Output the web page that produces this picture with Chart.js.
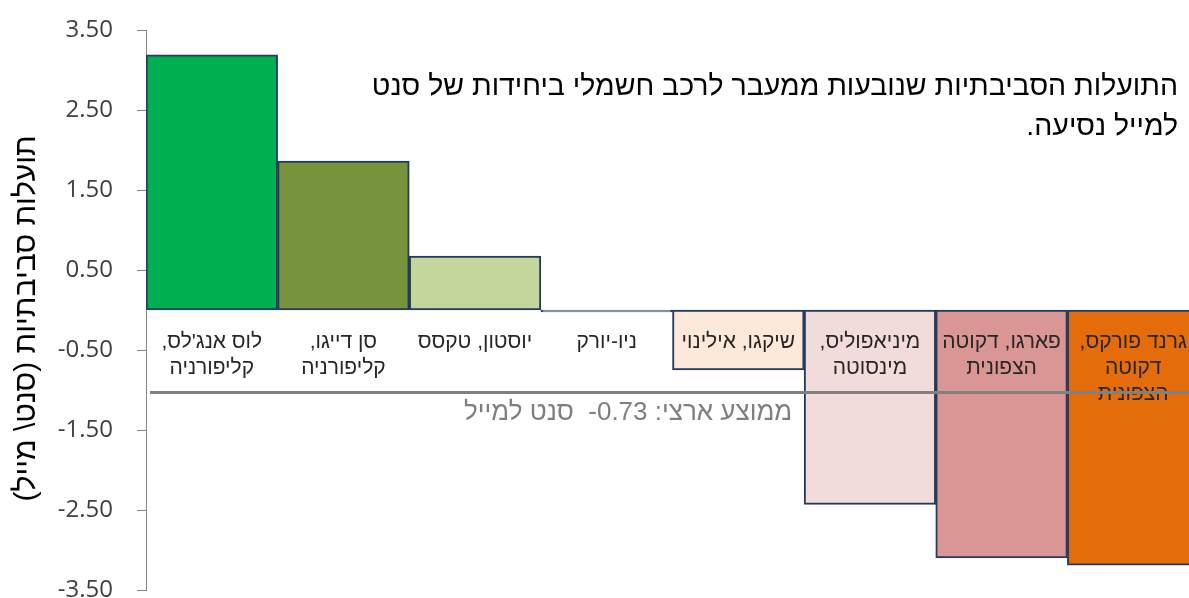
<!DOCTYPE html>
<html>
<head>
<meta charset="utf-8">
<script src="https://cdn.jsdelivr.net/npm/chart.js@4"></script>
<style>
  html, body { margin: 0; padding: 0; background: #fff; overflow: hidden; }
  #wrap { width: 1199px; height: 620px; }
</style>
</head>
<body>
<div id="wrap"><canvas id="benefitChart" width="1199" height="620"></canvas></div>
<script>
// --- Data ---
const RLM = '\u200F';
const cities = [
  ["לוס אנג'לס," + RLM, "קליפורניה"],
  ["סן דייגו," + RLM, "קליפורניה"],
  ["יוסטון, טקסס"],
  ["ניו-יורק"],
  ["שיקגו, אילינוי"],
  ["מיניאפוליס," + RLM, "מינסוטה"],
  ["פארגו, דקוטה", "הצפונית"],
  ["גרנד פורקס," + RLM, "דקוטה", "הצפונית"]
];
const benefitValues = [3.19, 1.86, 0.675, -0.025, -0.75, -2.43, -3.1, -3.19];
const barColors = ['#00B050', '#77933C', '#C3D69B', '#FFFFFF', '#FDE9D9', '#F2DCDB', '#D99694', '#E46C0A'];
const yTicks = [-3.5, -2.5, -1.5, -0.5, 0.5, 1.5, 2.5, 3.5];
const avgLineValue = -1.03;
const avgLabel = 'ממוצע ארצי: 0.73-  סנט למייל';
const titleLines = ['התועלות הסביבתיות שנובעות ממעבר לרכב חשמלי ביחידות של סנט', 'למייל נסיעה.'];
const yTitle = RLM + '\u00A0\u00A0' + 'תועלות סביבתיות (סנט\\ מייל)' + RLM;

const HEB_FONT = '"Liberation Sans", "DejaVu Sans", sans-serif';

// --- Overlay: national average line + note + title ---
const overlayPlugin = {
  id: 'overlay',
  afterDraw(chart) {
    const ctx = chart.ctx;
    const x = chart.scales.x;
    const y = chart.scales.y;
    const area = chart.chartArea;
    const yAvg = y.getPixelForValue(avgLineValue);

    ctx.save();
    ctx.strokeStyle = '#808080';
    ctx.lineWidth = 3;
    ctx.beginPath();
    ctx.moveTo(area.left + 4, yAvg);
    ctx.lineTo(area.right, yAvg);
    ctx.stroke();

    const halfCat = (x.getPixelForValue(1) - x.getPixelForValue(0)) / 2;
    ctx.direction = 'rtl';
    ctx.textAlign = 'right';
    ctx.textBaseline = 'middle';
    ctx.fillStyle = '#7F7F7F';
    ctx.font = '26px ' + HEB_FONT;
    ctx.fillText(avgLabel, x.getPixelForValue(5) - halfCat - 12, yAvg + 20);

    ctx.fillStyle = '#000';
    ctx.font = '28.5px ' + HEB_FONT;
    titleLines.forEach((line, i) => {
      ctx.fillText(line + RLM, 1178, 87 + i * 40);
    });
    ctx.restore();
  }
};

new Chart(document.getElementById('benefitChart').getContext('2d'), {
  type: 'bar',
  data: {
    labels: cities,
    datasets: [{
      data: benefitValues,
      backgroundColor: barColors,
      borderColor: '#253A5E',
      borderWidth: 2,
      borderSkipped: false,
      barPercentage: 1,
      categoryPercentage: 1
    }]
  },
  options: {
    responsive: false,
    animation: false,
    layout: { padding: 0 },
    plugins: { legend: { display: false }, tooltip: { enabled: false } },
    scales: {
      x: {
        // labels hang just under the zero line, inside the plot
        position: { y: -0.24 },
        grid: { display: false, drawTicks: false },
        border: { display: false },
        ticks: {
          z: 1,
          color: '#262626',
          padding: 0,
          maxRotation: 0,
          autoSkip: false,
          font: { family: HEB_FONT, size: 21, lineHeight: 1.24 }
        }
      },
      y: {
        min: -3.5,
        max: 3.5,
        afterBuildTicks: (scale) => { scale.ticks = yTicks.map(v => ({ value: v })); },
        afterFit: (scale) => { scale.width = 146; },
        grid: { drawOnChartArea: false, tickLength: 9, color: '#868686' },
        border: { color: '#868686' },
        ticks: {
          color: '#404040',
          padding: 24,
          font: { family: '"Open Sans", "Liberation Sans", sans-serif', size: 24, lineHeight: 0.5 },
          callback: (v) => Number(v).toFixed(2)
        },
        title: {
          display: true,
          text: yTitle,
          color: '#000',
          padding: { top: 9, bottom: 0 },
          font: { family: HEB_FONT, size: 30 }
        }
      }
    }
  },
  plugins: [overlayPlugin]
});
</script>
</body>
</html>
